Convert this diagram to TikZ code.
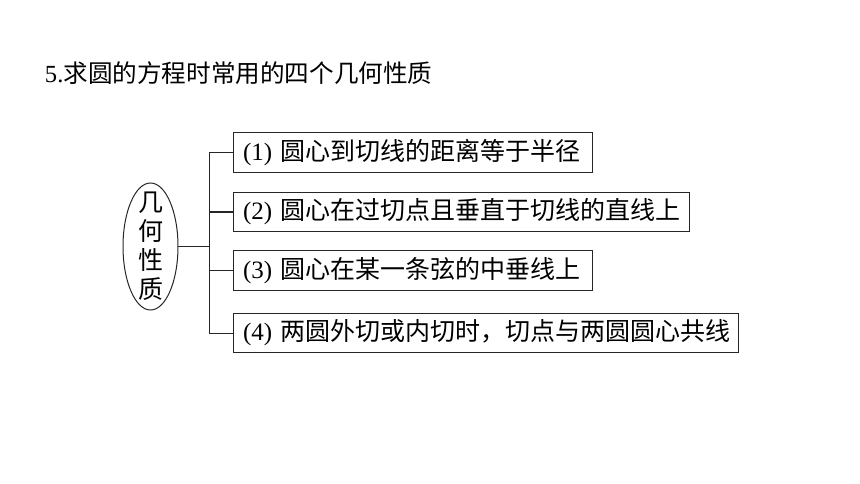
\documentclass[tikz,border=0pt]{standalone}
\usepackage{fontspec}
\setmainfont{Liberation Serif}
\newfontfamily\cjk{Noto Sans CJK SC}
\usetikzlibrary{shapes.geometric}

\begin{document}
\begin{tikzpicture}[x=1pt, y=-1pt,
  every node/.style={outer sep=0pt},
  prop/.style={draw=black!85, line width=1pt, ellipse, minimum width=55pt, minimum height=127pt, inner sep=0pt},
  item/.style={draw=black!85, line width=1pt, anchor=west, inner xsep=10pt, inner ysep=0pt, minimum height=39.5pt, align=left, font=\fontsize{25}{30}\selectfont},
  link/.style={draw=black!85, line width=1pt}]
\useasboundingbox (0,0) rectangle (860,484);

\node[anchor=west, inner sep=0pt, font=\fontsize{24.6}{30}\selectfont] (title) at (45,73) {5.{\cjk 求圆的方程时常用的四个几何性质}};

\node[prop] (geo) at (150.5,246.5) {};
\node[align=center, inner sep=0pt, font=\fontsize{25}{29}\selectfont\cjk] (geotext) at (150.5,246.5) {几\\何\\性\\质};

\node[item, text width=339pt] (p1) at (233,152.5) {(1) {\cjk 圆心到切线的距离等于半径}};
\node[item, text width=436pt] (p2) at (233,212) {(2) {\cjk 圆心在过切点且垂直于切线的直线上}};
\node[item, text width=339pt] (p3) at (233,270.5) {(3) {\cjk 圆心在某一条弦的中垂线上}};
\node[item, text width=485pt] (p4) at (233,333) {(4) {\cjk 两圆外切或内切时，切点与两圆圆心共线}};

\coordinate (trunk) at (209,246.5);
\draw[link] (geo.east) -- (trunk);
\draw[link] (p1.west) -| (trunk);
\draw[link] (p2.west) -| (trunk);
\draw[link] (p3.west) -| (trunk);
\draw[link] (p4.west) -| (trunk);
\end{tikzpicture}
\end{document}
